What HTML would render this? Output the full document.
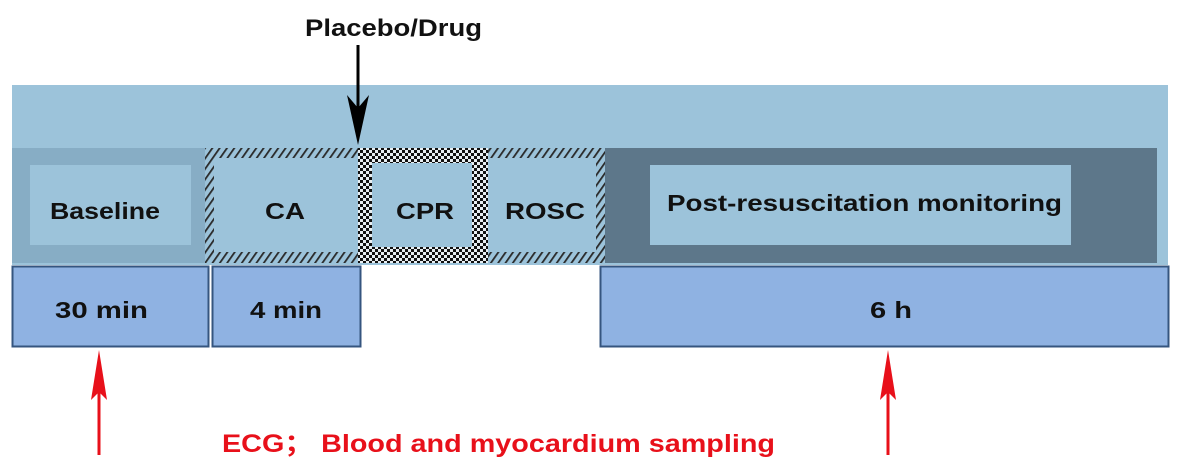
<!DOCTYPE html>
<html><head><meta charset="utf-8"><style>
html,body{margin:0;padding:0;background:#fff;}
svg{display:block}
text{font-family:"Liberation Sans",Arial,"Noto Sans CJK SC",sans-serif;font-weight:bold;}
</style></head><body>
<svg width="1181" height="472" viewBox="0 0 1181 472" xmlns="http://www.w3.org/2000/svg">
<defs>
<pattern id="hatch" width="6" height="6" patternUnits="userSpaceOnUse" patternTransform="rotate(35)">
<rect width="6" height="6" fill="#9cc3da"/>
<rect x="0" y="0" width="1.8" height="6" fill="#2a2a2a"/>
</pattern>
<pattern id="check" width="6" height="6" patternUnits="userSpaceOnUse">
<rect width="6" height="6" fill="#e8eef2"/>
<rect width="3" height="3" fill="#111"/>
<rect x="3" y="3" width="3" height="3" fill="#111"/>
</pattern>
</defs>
<rect x="12" y="85" width="1156" height="180" fill="#9cc3da"/>
<rect x="12" y="148" width="193" height="115" fill="#87adc5"/>
<rect x="30" y="165" width="161" height="80" fill="#9cc3da"/>
<text x="50" y="219" font-size="23" textLength="110" lengthAdjust="spacingAndGlyphs" fill="#111">Baseline</text>
<rect x="205" y="148" width="153" height="115" fill="url(#hatch)"/>
<rect x="214" y="158" width="144" height="94" fill="#9cc3da"/>
<text x="265" y="219" font-size="23" textLength="40" lengthAdjust="spacingAndGlyphs" fill="#111">CA</text>
<rect x="488" y="148" width="117" height="115" fill="url(#hatch)"/>
<rect x="488" y="158" width="108" height="94" fill="#9cc3da"/>
<text x="505" y="219" font-size="23" textLength="80" lengthAdjust="spacingAndGlyphs" fill="#111">ROSC</text>
<rect x="358" y="148" width="130" height="115" fill="url(#check)"/>
<rect x="372" y="163" width="100" height="84" fill="#9cc3da"/>
<text x="396" y="219" font-size="23" textLength="58" lengthAdjust="spacingAndGlyphs" fill="#111">CPR</text>
<rect x="605" y="148" width="552" height="115" fill="#5d778a"/>
<rect x="650" y="165" width="421" height="80" fill="#9cc3da"/>
<text x="667" y="211" font-size="23" textLength="395" lengthAdjust="spacingAndGlyphs" fill="#111">Post-resuscitation monitoring</text>
<rect x="12.5" y="266.5" width="196" height="80" fill="#8fb2e2" stroke="#35557f" stroke-width="2"/>
<text x="55" y="318" font-size="23" textLength="93" lengthAdjust="spacingAndGlyphs" fill="#111">30 min</text>
<rect x="212.5" y="266.5" width="148" height="80" fill="#8fb2e2" stroke="#35557f" stroke-width="2"/>
<text x="250" y="318" font-size="23" textLength="72" lengthAdjust="spacingAndGlyphs" fill="#111">4 min</text>
<rect x="600.5" y="266.5" width="568" height="80" fill="#8fb2e2" stroke="#35557f" stroke-width="2"/>
<text x="870" y="318" font-size="23" textLength="42" lengthAdjust="spacingAndGlyphs" fill="#111">6 h</text>
<text x="305" y="36" font-size="24" textLength="177" lengthAdjust="spacingAndGlyphs" fill="#111">Placebo/Drug</text>
<line x1="358" y1="45" x2="358" y2="110" stroke="#000" stroke-width="3"/>
<polygon points="347,95 358,108 369,95 358,145" fill="#000"/>
<line x1="99" y1="390" x2="99" y2="455" stroke="#e8101a" stroke-width="3"/>
<polygon points="99,350 107,400 99,392 91,400" fill="#e8101a"/>
<line x1="888" y1="390" x2="888" y2="455" stroke="#e8101a" stroke-width="3"/>
<polygon points="888,350 896,400 888,392 880,400" fill="#e8101a"/>
<text x="222" y="452" font-size="25" fill="#e8101a" textLength="553" lengthAdjust="spacingAndGlyphs">ECG；  Blood and myocardium sampling</text>
</svg>
</body></html>
